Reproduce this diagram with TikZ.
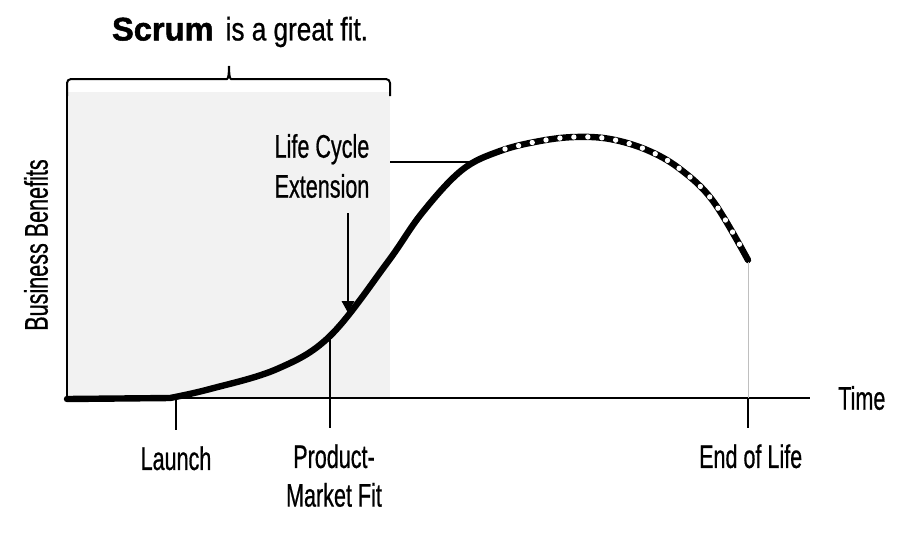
\documentclass[tikz,border=0pt]{standalone}
\usepackage{fontspec}
\setmainfont{Liberation Sans}[FakeStretch=0.66, FakeBold=0.6]
\newfontfamily\heavyfont{Liberation Sans}[UprightFont=*-Bold, FakeStretch=1.0, FakeBold=1.5]
\newfontfamily\titlefont{Liberation Sans}[FakeStretch=0.8, FakeBold=0.6]
\usetikzlibrary{positioning,arrows.meta}

\begin{document}
\begin{tikzpicture}[x=0.75pt, y=-0.75pt]
    \tikzset{
        lbl/.style = {font=\fontsize{24.5}{28}\selectfont, inner sep=0pt, align=center},
        axis/.style = {line width=1.5pt},
        tick/.style = {line width=2.2pt},
        arrow/.style = {line width=2.2pt, -{Triangle[length=9pt, width=9pt]}},
        curve/.style = {line width=4.8pt, line cap=round},
        dots/.style = {white, line width=4pt, line cap=round, dash pattern=on 0pt off 10.5pt}
    }
    \useasboundingbox[fill=white] (0,0) rectangle (908,537);

    % shaded scrum region
    \fill[black!5] (67,92) rectangle (390,398);
    \draw[line width=1.5pt, rounded corners=3pt] (67,96) |- (223,79) to[out=0, in=-90] (229,66);
    \draw[line width=1.5pt, rounded corners=3pt] (229,66) to[out=-90, in=180] (235,79) -| (390,96);
    \node (scrum) [lbl] at (240,32) {{\heavyfont Scrum}\ \ {\titlefont is a great fit.}};

    % axes
    \coordinate (origin) at (67,398);
    \coordinate (ytop) at (67,92);
    \coordinate (xend) at (810,398);
    \draw[axis] (ytop) -- (origin) -- (xend);
    \node (time) [lbl, right=21pt of xend] {Time};
    \node (benefits) [lbl, rotate=90] at (36,245) {Business Benefits};

    % life cycle curve
    \draw[curve] (67,399) -- plot[smooth, tension=0.6] coordinates {(170,398) (210,389) (277,369) (330,336)
        (387,263) (422,213) (462,170) (500,151) (540,141) (575,137) (610,139) (647,150) (680,169) (713,201) (748,260)};
    \draw[dots] plot[smooth, tension=0.6] coordinates {(505,149) (540,141) (575,137) (610,139) (647,150)
        (680,169) (713,201) (746,256)};

    % milestones
    \coordinate (launch) at (176,398);
    \coordinate (launchEnd) at (176,430);
    \coordinate (pmf) at (330,337);
    \coordinate (pmfEnd) at (330,428);
    \coordinate (eol) at (748,262);
    \coordinate (eolAxis) at (748,398);
    \coordinate (eolEnd) at (748,428);
    \draw[tick] (launch) -- (launchEnd);
    \draw[tick] (pmf) -- (pmfEnd);
    \draw[tick] (eolAxis) -- (eolEnd);
    \draw[black!25, line width=0.4pt] (eol) -- (eolAxis);
    \node (launchLabel) [lbl, below=12pt of launchEnd] {Launch};
    \node (pmfLabel) [lbl, below=12pt of pmfEnd, xshift=3pt] {Product-\\[1pt]Market Fit};
    \node (eolLabel) [lbl, below=12pt of eolEnd, xshift=2pt] {End of Life};

    % life cycle extension
    \node (lce) [lbl] at (322,166) {Life Cycle\\[2pt]Extension};
    \coordinate (lceStart) at (390,162);
    \coordinate (lceCurve) at (470,162);
    \coordinate (arrowTop) at (348,213);
    \coordinate (arrowTip) at (348,313);
    \draw[line width=2.2pt] (lceStart) -- (lceCurve);
    \draw[arrow] (arrowTop) -- (arrowTip);
\end{tikzpicture}
\end{document}
